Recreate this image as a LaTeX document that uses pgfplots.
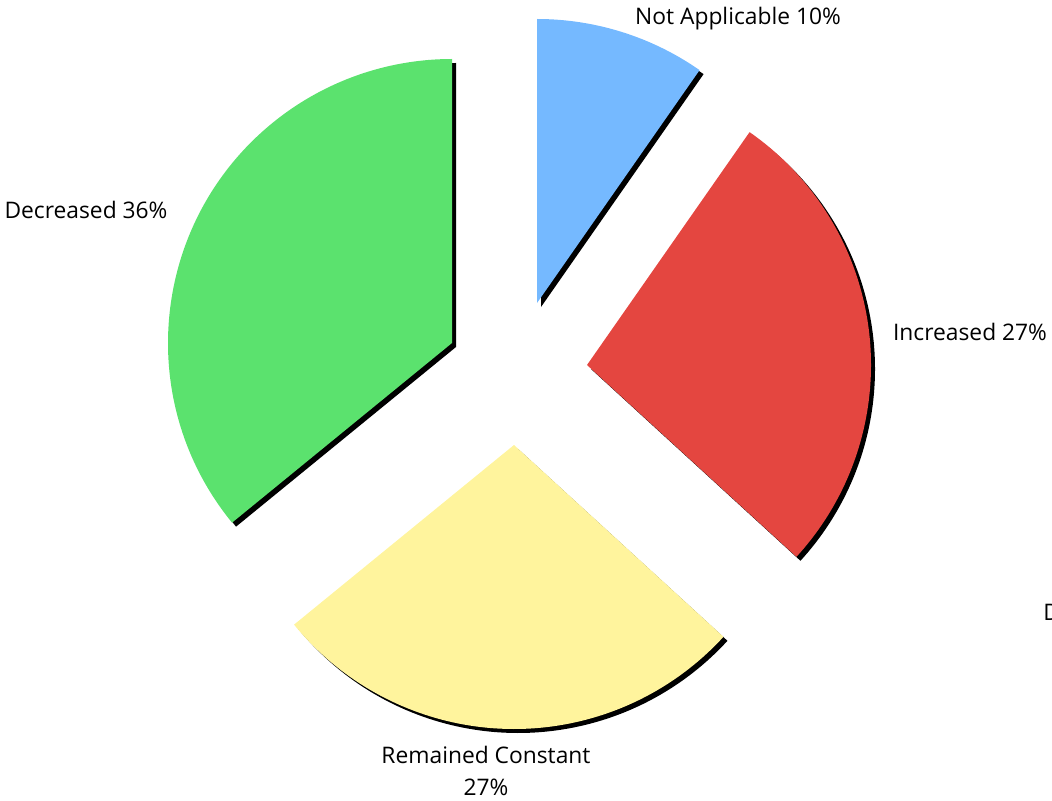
\documentclass[border=0pt]{standalone}
\usepackage{fontspec}
\setmainfont{Open Sans}
\usepackage{pgfplots}
\pgfplotsset{compat=1.18}

\definecolor{naBlue}{RGB}{117,185,255}
\definecolor{incRed}{RGB}{228,70,64}
\definecolor{remYellow}{RGB}{255,244,157}
\definecolor{decGreen}{RGB}{91,226,110}

\tikzset{lbl/.style={font=\fontsize{11.4pt}{16pt}\selectfont, inner sep=0pt}}

% #1 colour, #2/#3 apex in axis units, #4 start angle, #5 end angle
% (angles follow the shares 9.7, 27.1, 27.3, 35.9 % clockwise from 90 deg)
\newcommand{\slice}[5]{%
  \fill[black, shift={(2pt,-2pt)}] (axis cs:#2,#3) -- ++(#4:142pt)
    arc[start angle=#4, end angle=#5, radius=142pt] -- cycle;
  \fill[#1] (axis cs:#2,#3) -- ++(#4:142pt)
    arc[start angle=#4, end angle=#5, radius=142pt] -- cycle;
}

\begin{document}
\begin{tikzpicture}
\begin{axis}[
    hide axis,
    scale only axis,
    width=526pt, height=400pt,
    xmin=0, xmax=1052,
    ymin=0, ymax=800,
    clip=false
]
    \slice{naBlue}{537}{497}{90}{55.08}
    \slice{incRed}{587}{435}{55.08}{-42.48}
    \slice{remYellow}{514}{355}{-42.48}{-140.76}
    \slice{decGreen}{452}{457}{-140.76}{-270}

    \node[lbl] at (axis cs:738,781) {Not Applicable 10\%};
    \node[lbl] at (axis cs:970,468) {Increased 27\%};
    \node[lbl] at (axis cs:86,590) {Decreased 36\%};
    \node[lbl, align=center] at (axis cs:486,29) {Remained Constant\\27\%};
    \node[lbl, anchor=west] at (axis cs:1043,188) {D};
\end{axis}
\pgfresetboundingbox
\useasboundingbox (0,0) rectangle (526pt,400pt);
\end{tikzpicture}
\end{document}
